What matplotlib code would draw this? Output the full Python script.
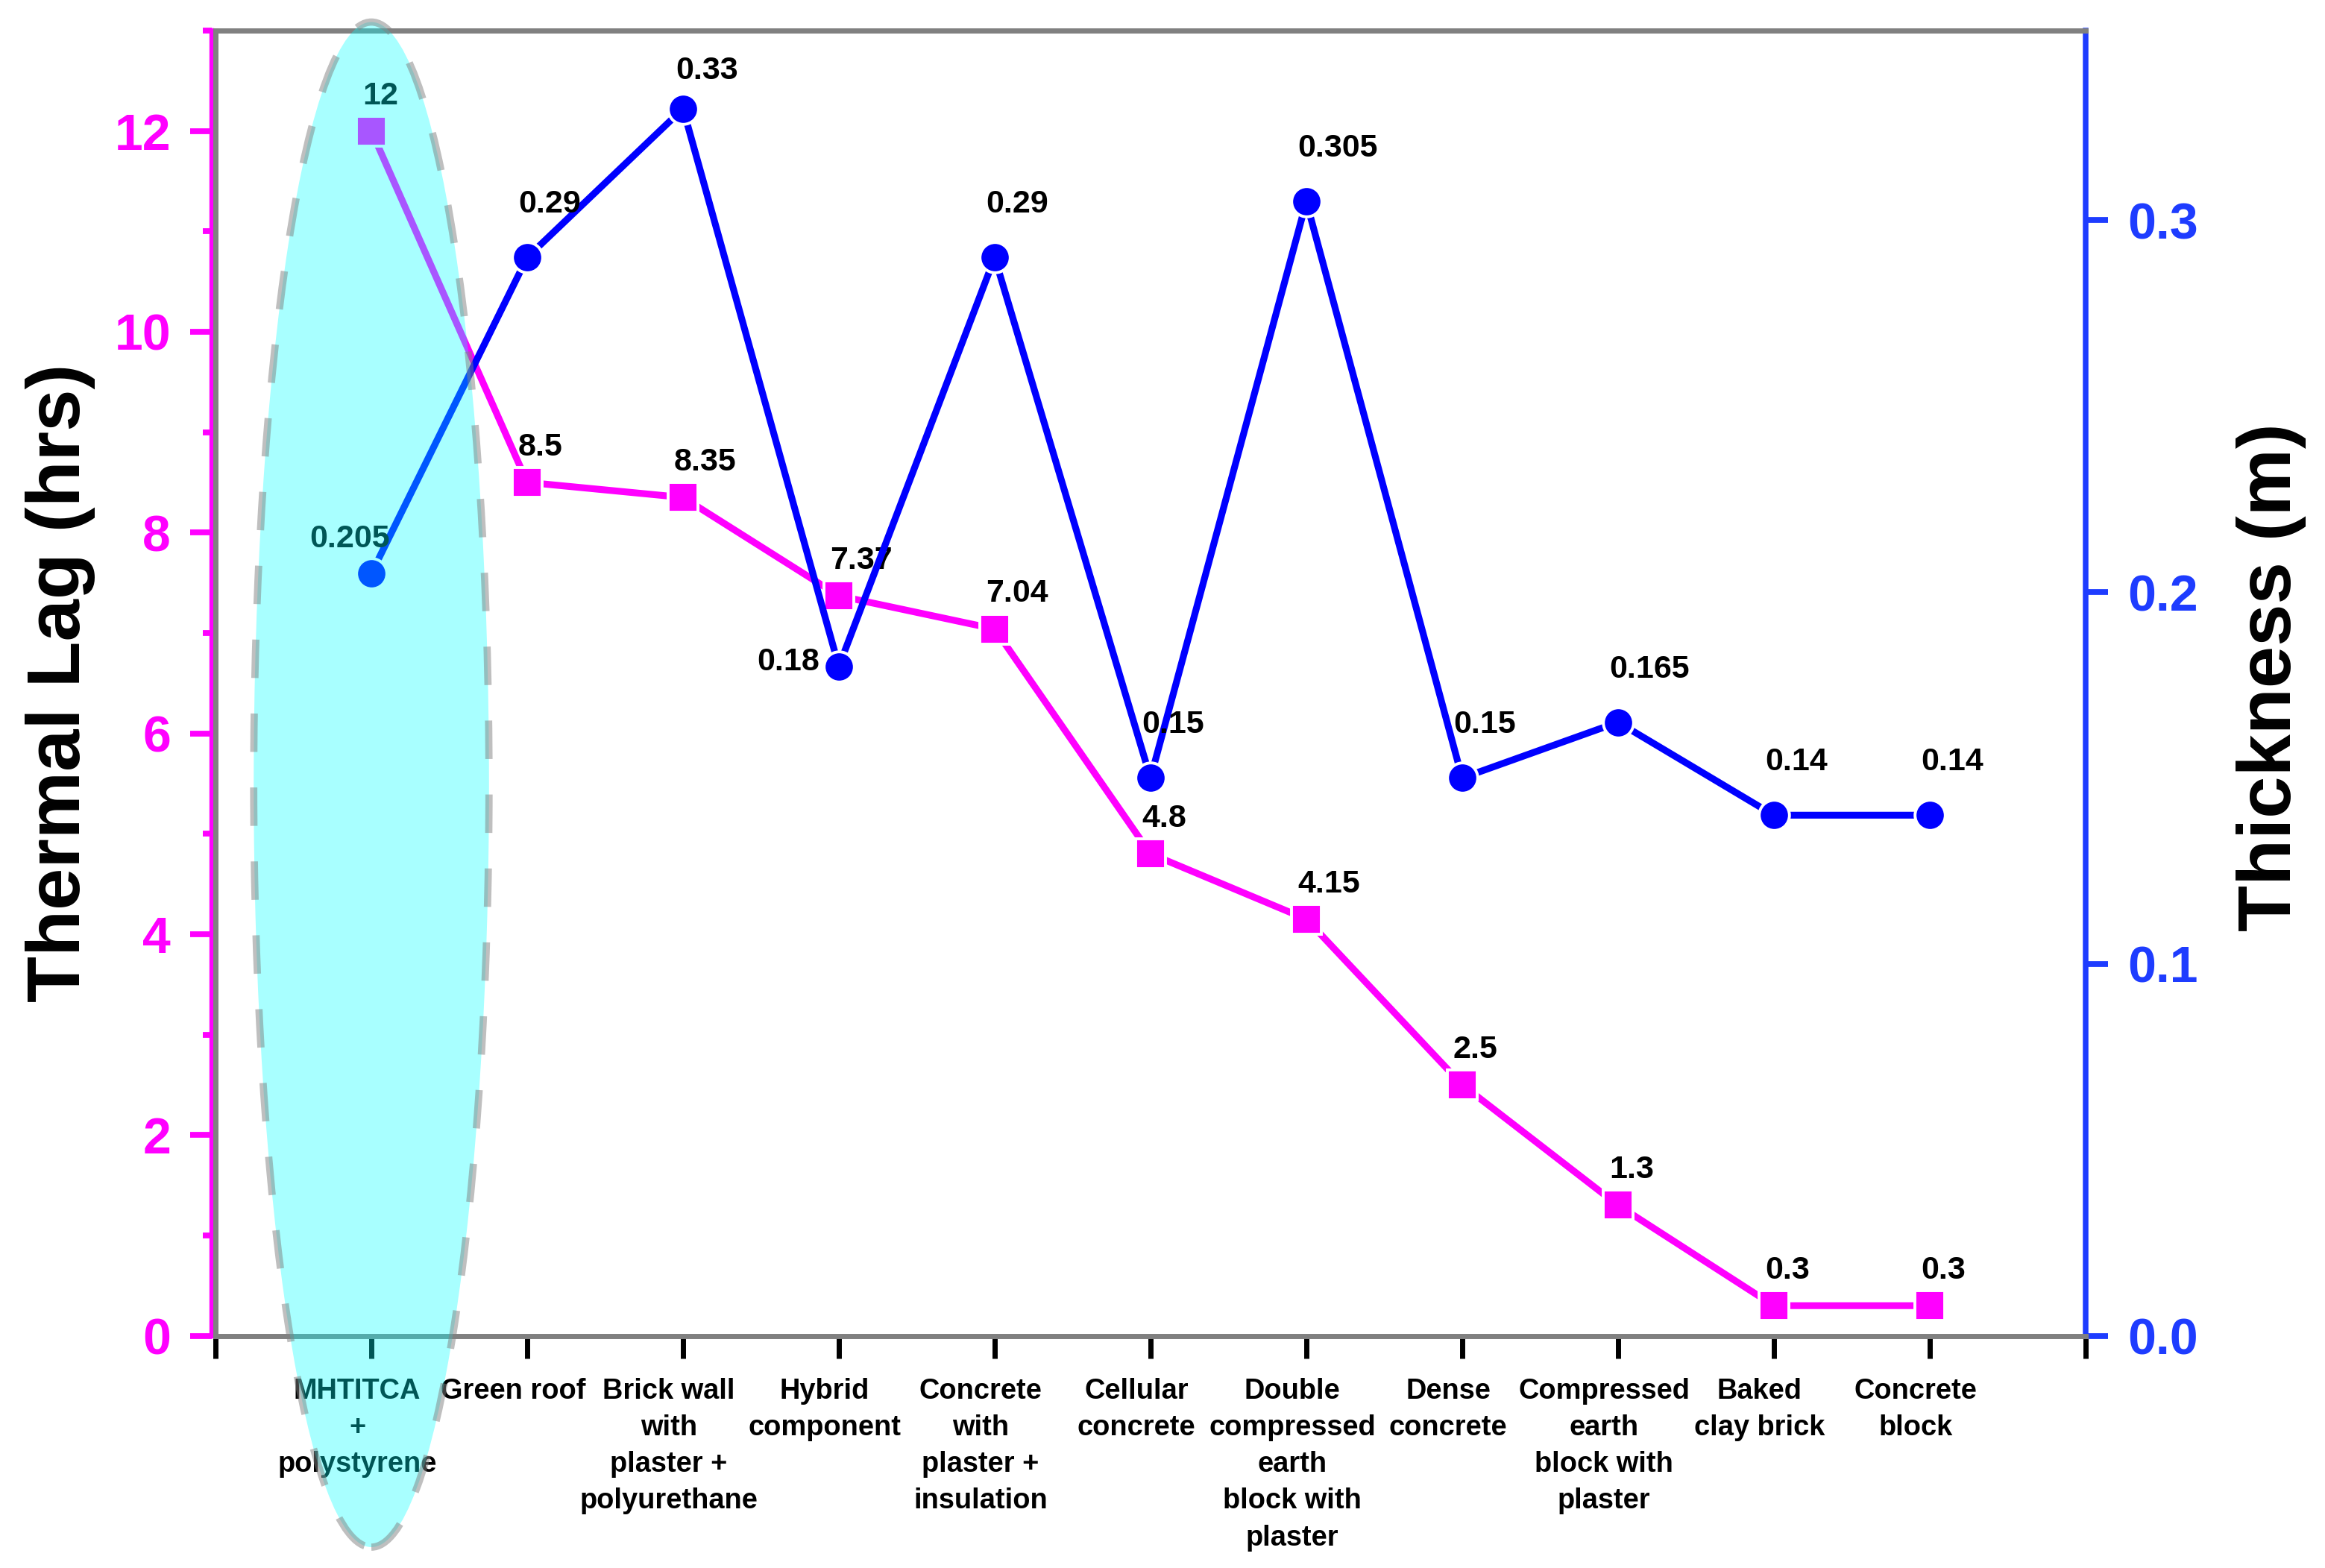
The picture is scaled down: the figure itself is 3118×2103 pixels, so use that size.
import matplotlib
matplotlib.use("Agg")
import matplotlib.pyplot as plt
import matplotlib.transforms as mtransforms
from matplotlib.patches import Ellipse
from matplotlib.ticker import MultipleLocator

plt.rcParams["font.family"] = ["Liberation Sans", "DejaVu Sans"]
plt.rcParams["font.weight"] = "bold"

# ---- data ----
materials = [
    "MHTITCA\n+\npolystyrene",
    "Green roof",
    "Brick wall\nwith\nplaster +\npolyurethane",
    "Hybrid\ncomponent",
    "Concrete\nwith\nplaster +\ninsulation",
    "Cellular\nconcrete",
    "Double\ncompressed\nearth\nblock with\nplaster",
    "Dense\nconcrete",
    "Compressed\nearth\nblock with\nplaster",
    "Baked\nclay brick",
    "Concrete\nblock",
]
thermal_lag = [12, 8.5, 8.35, 7.37, 7.04, 4.8, 4.15, 2.5, 1.3, 0.3, 0.3]   # hrs
thickness = [0.205, 0.29, 0.33, 0.18, 0.29, 0.15, 0.305, 0.15, 0.165, 0.14, 0.14]  # m

MAGENTA = "#FF00FF"
BLUE = "#0000FF"
AXBLUE = "#1E3CFF"
GRAY = "#808080"

x = list(range(len(materials)))

fig = plt.figure(figsize=(15.59, 10.515), dpi=200)
ax = fig.add_axes([0.0927, 0.1481, 0.8043, 0.8324])
ax2 = ax.twinx()

# ---- thermal lag (left axis) ----
ax.plot(x, thermal_lag, color=MAGENTA, lw=3.3, marker="s", ms=14.2,
        mfc=MAGENTA, mec="white", mew=1.4, zorder=3)
for i, v in enumerate(thermal_lag):
    ax.annotate(f"{v:g}", (i, v), xytext=(-4.3, 13), textcoords="offset points",
                ha="left", va="baseline", fontsize=15.5, fontweight="bold")

# ---- thickness (right axis) ----
ax2.plot(x, thickness, color=BLUE, lw=3.3, marker="o", ms=14.6,
         mfc=BLUE, mec="white", mew=1.4, zorder=3)
special = {0: (-10.5, 12.6, "center"), 2: (-3.6, 14.4, "left"), 3: (-9.4, -1.8, "right")}
for i, v in enumerate(thickness):
    dx, dy, ha = special.get(i, (-4.3, 21.6, "left"))
    ax2.annotate(f"{v:g}", (i, v), xytext=(dx, dy), textcoords="offset points",
                 ha=ha, va="baseline", fontsize=15.5, fontweight="bold", zorder=4)

# ---- axes limits & ticks ----
ax.set_xlim(-1, 11)
ax.set_ylim(0, 13)
ax2.set_ylim(0, 0.351)

ax.set_xticks(range(-1, 12))
ax.set_xticklabels([])
ax.tick_params(axis="x", direction="out", length=10.8, width=2.5, color="black")

# category names sit slightly left of their ticks in the original
lab_trans = ax.get_xaxis_transform() + mtransforms.ScaledTranslation(
    -6.8 / 72, -20.3 / 72, fig.dpi_scale_trans)
for i, name in enumerate(materials):
    ax.text(i, 0, name, transform=lab_trans, ha="center", va="top",
            fontsize=13.7, fontweight="bold", linespacing=1.47, clip_on=False)

ax.yaxis.set_major_locator(MultipleLocator(2))
ax.yaxis.set_minor_locator(MultipleLocator(1))
ax.tick_params(axis="y", which="major", direction="out", length=10.4, width=2.8,
               color=MAGENTA, labelcolor=MAGENTA, labelsize=24.5, pad=9.4)
ax.tick_params(axis="y", which="minor", direction="out", length=4.3, width=2.8,
               color=MAGENTA)

ax2.set_yticks([0.0, 0.1, 0.2, 0.3])
ax2.set_yticklabels(["0.0", "0.1", "0.2", "0.3"])
ax2.tick_params(axis="y", direction="out", length=10.8, width=2.8,
                color=AXBLUE, labelcolor=AXBLUE, labelsize=24.5, pad=9.4)

# ---- spines ----
for s in ["top", "right", "bottom"]:
    ax.spines[s].set_visible(False)
ax.spines["left"].set_color(MAGENTA)
ax.spines["left"].set_linewidth(2.3)
ax.spines["left"].set_position(("outward", 1.8))
for s in ["top", "bottom", "left"]:
    ax2.spines[s].set_color(GRAY)
    ax2.spines[s].set_linewidth(2.5)
ax2.spines["right"].set_color(AXBLUE)
ax2.spines["right"].set_linewidth(2.7)

# ---- axis titles ----
fig.text(0.0261, 0.5644, "Thermal Lag (hrs)", rotation=90, ha="center",
         va="center", fontsize=36.5, fontweight="bold")
fig.text(0.9769, 0.5682, "Thickness (m)", rotation=90, ha="center",
         va="center", fontsize=36.5, fontweight="bold")

# ---- highlight ellipse around the first material ----
hl = Ellipse((0, 5.49), width=1.51, height=15.19, transform=ax.transData,
             facecolor=(0, 1, 1, 0.34), edgecolor=(0.5, 0.5, 0.5, 0.5),
             lw=3.5, linestyle=(0, (5.3, 4.9)), clip_on=False, zorder=10)
ax2.add_patch(hl)

fig.savefig("out.png", dpi=200)
